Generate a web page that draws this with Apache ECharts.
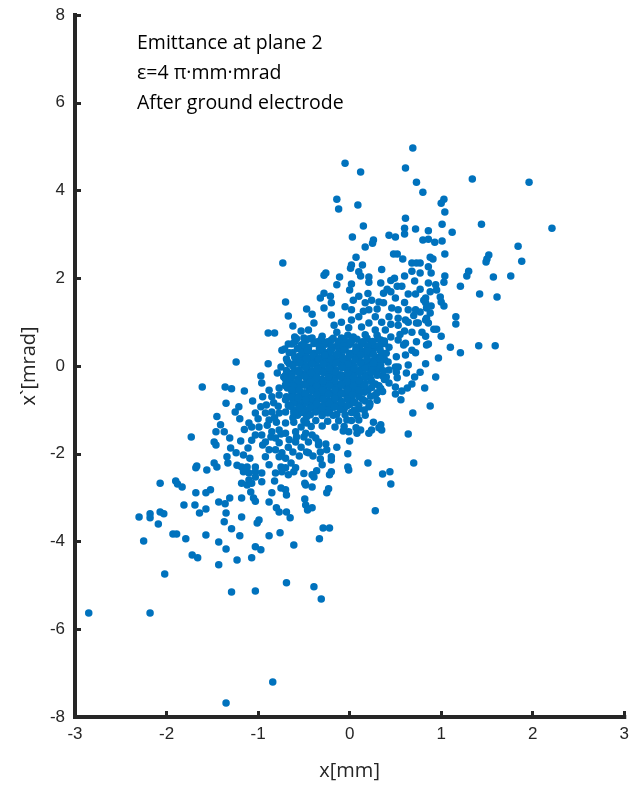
<!DOCTYPE html>
<html>
<head>
<meta charset="utf-8">
<script src="https://cdn.jsdelivr.net/npm/echarts@6/dist/echarts.min.js"></script>
<style>
html,body{margin:0;padding:0;background:#fff;}
#chart{width:632px;height:787px;}
</style>
</head>
<body>
<div id="chart"></div>
<script>
// x [mm], x' [mrad] pairs
const upperPoints = [
[0.69,4.97],[-0.05,4.62],[0.12,4.42],[0.61,4.51],[1.34,4.26],[1.96,4.19],[0.73,4.19],[0.80,3.96],[-0.14,3.80],[-0.12,3.58],[0.09,3.67],[1.03,3.80],[1.00,3.71],[1.04,3.51],[0.61,3.37],[0.15,3.19],[0.60,3.14],[0.60,3.01],[0.72,3.12],[1.01,3.23],[1.12,3.05],[1.44,3.23],[2.21,3.14],[0.03,2.94],[0.26,2.87],[0.25,2.80],[0.17,2.71],[0.43,2.98],[0.50,2.94],[0.86,3.08],[0.80,2.87],[0.86,2.89],[0.93,2.82],[1.01,2.85],[1.84,2.73],[1.52,2.53],[0.07,2.48],[0.48,2.55],[0.52,2.55],[1.04,2.55],[0.88,2.48],[0.58,2.44],[1.50,2.44],[1.88,2.39],
[-0.73,2.35],[-0.70,1.46],[-0.67,1.14],[-0.47,1.30],[-0.62,0.91],[-0.89,0.75],[-0.82,0.75],[-0.53,0.80],[-0.60,0.66],[-0.50,0.64],[-0.67,0.50],[-0.74,0.36],[-0.71,0.39],[-0.53,0.48],[-0.52,0.36],[-0.50,0.27],[-0.69,0.16],[-1.24,0.09],[-0.89,0.05],[-0.61,0.05],[-0.49,0.14],[-0.75,-0.02],[-0.79,-0.16],[-0.70,-0.21],[-0.97,-0.23],[-0.63,-0.16]
];
const rightPoints = [
[0.14,2.30],[0.02,2.30],[0.01,2.23],[-0.28,2.07],[-0.26,2.12],[-0.11,2.03],[0.12,2.05],[0.21,2.03],[0.68,2.35],[0.73,2.35],[0.68,2.16],[0.77,2.12],[0.49,2.00],[0.21,1.91],[0.34,1.89],[0.02,1.87],[-0.14,1.85],[0.52,1.82],[0.57,1.82],[0.71,1.94],[0.00,1.73],[0.41,1.75],[0.37,1.66],[0.45,1.69],[0.64,1.64],[0.72,1.64],[-0.28,1.66],[-0.21,1.59],[-0.32,1.55],[0.10,1.59],[0.24,1.50],[0.32,1.46],[0.17,1.44],[0.04,1.50],[-0.20,1.44],[0.81,1.50],[0.84,1.32],[-0.41,1.18],[-0.28,1.32],[-0.20,1.16],[0.02,1.28],[0.10,1.12],[0.21,1.28],[0.37,1.44],[0.46,1.32],[0.53,1.28],[0.64,1.28],[0.72,1.28],[0.53,1.09],[0.61,1.05],[0.43,1.12],[0.28,1.12],[0.35,1.00],[0.21,0.98],[-0.09,1.00],[0.02,1.05],[-0.17,0.93],[-0.39,0.98],[-0.45,0.82],[-0.14,0.77],[-0.01,0.87],[0.13,0.89],[0.28,0.82],[0.39,0.82],[0.53,0.93],[0.64,1.00],[0.73,0.98],[0.84,1.09],[0.68,0.77],[0.79,0.77],[-0.41,0.64],[-0.34,0.52],[-0.20,0.59],[-0.09,0.64],[0.04,0.66],[0.17,0.71],[0.23,0.55],[0.34,0.59],[0.45,0.66],[0.53,0.59],[0.61,0.52],[0.73,0.55],[0.84,0.48],[-0.12,0.43],[-0.01,0.48],[0.10,0.43],[0.28,0.43],[0.43,0.43],[-0.45,0.43],
[0.91,2.44],[0.77,2.35],[0.86,2.26],[0.89,2.12],[1.04,2.05],[1.03,1.91],[1.49,2.37],[1.30,2.16],[1.28,2.05],[1.57,2.03],[1.76,2.05],[1.21,1.82],[0.86,1.89],[0.94,1.85],[0.95,1.73],[0.88,1.69],[0.77,1.75],[1.42,1.64],[1.61,1.57],[0.99,1.57],[1.00,1.46],[1.03,1.37],[0.83,1.55],[0.83,1.44],[0.89,1.37],[0.77,1.23],[0.88,1.21],[1.16,1.12],[1.16,0.96],[0.83,1.05],[0.86,0.98],[0.75,0.98],[0.92,0.84],[0.95,0.84],[0.83,0.68],[1.00,0.68],[0.86,0.50],[1.10,0.43],[1.41,0.46],[1.59,0.46],[1.21,0.30],[0.97,0.18],[0.83,0.05],[0.77,-0.14],[0.94,-0.25],
[0.53,-0.02],[0.51,-0.14],[0.52,-0.27],[0.64,0.02],[0.62,-0.16],[0.71,-0.25],[0.68,-0.41],[0.63,-0.50],[0.57,-0.57],[0.50,-0.64],[0.82,-0.50],[0.56,-0.77],[0.88,-0.91],[0.69,-1.07],[0.64,-1.55],
[0.59,0.48],[0.68,0.36],[0.51,0.21],[0.61,0.25],[0.72,0.30],[0.43,-0.09],[0.50,-0.02],[0.40,-0.25],[0.29,-0.02],[0.32,0.09],[0.43,-0.39],[0.50,-0.48],[0.26,-1.28],[0.34,-1.34],[0.17,-1.12],[0.10,-1.23],[-0.03,-1.23],[0.04,-1.05],[0.21,-0.93],
[0.50,1.55],[0.60,1.45],[0.30,1.30],[0.15,1.25],[0.45,0.95],[0.60,0.80],[0.70,1.15],[0.30,0.70],[0.55,0.72],[0.20,1.65],[0.10,2.15],[0.35,2.20],[0.60,2.05],[-0.05,1.35],[0.45,1.95]
];
const corePoints = [
[-0.62,0.30],[-0.55,0.22],[-0.45,0.35],[-0.38,0.28],[-0.30,0.40],[-0.22,0.33],[-0.15,0.25],[-0.05,0.38],[0.05,0.30],[0.12,0.36],[0.20,0.28],[0.28,0.20],[0.35,0.30],
[-0.66,0.05],[-0.58,0.12],[-0.50,0.02],[-0.42,0.10],[-0.35,0.15],[-0.28,0.05],[-0.20,0.12],[-0.12,0.08],[-0.04,0.15],[0.03,0.05],[0.10,0.12],[0.18,0.06],[0.25,0.10],[0.38,0.15],
[-0.60,-0.10],[-0.52,-0.18],[-0.46,-0.08],[-0.40,-0.20],[-0.33,-0.05],[-0.25,-0.15],[-0.18,-0.08],[-0.10,-0.20],[-0.02,-0.06],[0.06,-0.15],[0.14,-0.05],[0.22,-0.18],[0.30,-0.10],[0.36,-0.22],
[-0.64,-0.35],[-0.56,-0.30],[-0.48,-0.40],[-0.40,-0.32],[-0.32,-0.42],[-0.24,-0.30],[-0.16,-0.38],[-0.08,-0.28],[0.00,-0.40],[0.08,-0.32],[0.16,-0.42],[0.24,-0.35],[0.32,-0.45],
[-0.60,-0.55],[-0.52,-0.62],[-0.44,-0.52],[-0.36,-0.60],[-0.28,-0.50],[-0.20,-0.62],[-0.12,-0.55],[-0.04,-0.65],[0.04,-0.52],[0.12,-0.60],[0.20,-0.55],[0.28,-0.66],[0.36,-0.58],
[-0.58,-0.80],[-0.50,-0.72],[-0.42,-0.85],[-0.34,-0.76],[-0.26,-0.88],[-0.18,-0.78],[-0.10,-0.86],[-0.02,-0.75],[0.06,-0.84],[0.14,-0.76],[0.22,-0.85],[0.30,-0.78],
[-0.55,-1.00],[-0.46,-1.05],[-0.38,-0.96],[-0.30,-1.08],[-0.22,-1.00],[-0.14,-1.10],[-0.06,-0.98],[0.02,-1.06],[0.10,-0.98],
[-0.60,0.55],[-0.48,0.58],[-0.35,0.55],[-0.25,0.50],[-0.05,0.55],[0.15,0.52],[0.22,0.45],[-0.30,0.68],[-0.02,0.70],
[-0.35,-0.15],[-0.25,-0.40],[-0.15,-0.20],[-0.05,-0.45],[0.02,-0.25],[-0.45,-0.25],[-0.20,0.00],[-0.08,0.02],[0.00,-0.12],[-0.30,-0.65],[-0.12,-0.70],[-0.40,-0.45],[0.10,-0.45],[-0.55,-0.45],[-0.65,-0.20],[0.18,-0.25],[0.25,-0.05],[-0.28,0.22],[-0.10,0.45],[0.08,0.20],[-0.48,-0.65],[-0.36,-0.88],[-0.18,-0.92],[0.00,-0.88],[-0.62,-0.65],[-0.70,-0.45],[-0.72,-0.25]
];
const coreFillPoints = [
[-0.58,0.62],[-0.44,0.62],[-0.31,0.61],[-0.18,0.63],[-0.07,0.62],[0.08,0.61],[0.19,0.63],[0.31,0.62],
[-0.63,0.50],[-0.51,0.49],[-0.39,0.51],[-0.27,0.50],[-0.13,0.49],[0.01,0.51],[0.13,0.50],[0.26,0.49],[0.38,0.51],
[-0.57,0.40],[-0.45,0.41],[-0.33,0.39],[-0.19,0.40],[-0.06,0.41],[0.07,0.39],[0.19,0.40],[0.33,0.41],
[-0.66,0.30],[-0.52,0.31],[-0.39,0.29],[-0.27,0.30],[-0.12,0.31],[0.00,0.29],[0.14,0.30],[0.25,0.31],[0.40,0.29],
[-0.60,0.20],[-0.47,0.21],[-0.33,0.19],[-0.21,0.20],[-0.08,0.21],[0.06,0.19],[0.19,0.20],[0.33,0.21],
[-0.68,0.10],[-0.54,0.11],[-0.40,0.09],[-0.27,0.10],[-0.14,0.11],[-0.01,0.09],[0.12,0.10],[0.26,0.11],[0.42,0.09],
[-0.62,0.00],[-0.48,0.01],[-0.35,-0.01],[-0.22,0.00],[-0.09,0.01],[0.05,-0.01],[0.19,0.00],[0.34,0.01],
[-0.69,-0.10],[-0.55,-0.09],[-0.41,-0.11],[-0.28,-0.10],[-0.15,-0.09],[-0.02,-0.11],[0.11,-0.10],[0.24,-0.09],[0.37,-0.11],
[-0.63,-0.20],[-0.49,-0.21],[-0.36,-0.19],[-0.22,-0.20],[-0.08,-0.21],[0.05,-0.19],[0.17,-0.20],[0.30,-0.21],
[-0.70,-0.30],[-0.56,-0.29],[-0.43,-0.31],[-0.30,-0.30],[-0.17,-0.29],[-0.03,-0.31],[0.11,-0.30],[0.23,-0.29],[0.38,-0.31],
[-0.62,-0.40],[-0.50,-0.41],[-0.36,-0.39],[-0.23,-0.40],[-0.10,-0.41],[0.04,-0.39],[0.17,-0.40],[0.28,-0.41],
[-0.68,-0.50],[-0.56,-0.49],[-0.42,-0.51],[-0.29,-0.50],[-0.16,-0.49],[-0.03,-0.51],[0.09,-0.50],[0.24,-0.49],[0.34,-0.51],
[-0.63,-0.60],[-0.49,-0.61],[-0.37,-0.59],[-0.23,-0.60],[-0.09,-0.61],[0.05,-0.59],[0.16,-0.60],[0.30,-0.61],
[-0.69,-0.70],[-0.55,-0.69],[-0.43,-0.71],[-0.29,-0.70],[-0.16,-0.69],[-0.02,-0.71],[0.10,-0.70],[0.23,-0.69],
[-0.62,-0.80],[-0.50,-0.81],[-0.36,-0.79],[-0.23,-0.80],[-0.09,-0.81],[0.03,-0.79],[0.17,-0.80],
[-0.67,-0.90],[-0.55,-0.89],[-0.43,-0.91],[-0.29,-0.90],[-0.15,-0.89],[-0.03,-0.91],[0.10,-0.90],[0.22,-0.89],
[-0.61,-1.00],[-0.49,-0.99],[-0.36,-1.01],[-0.24,-1.00],[-0.10,-0.99],[0.05,-1.01],[0.16,-1.00],
[-0.57,-1.12],[-0.43,-1.11],[-0.30,-1.13],[-0.18,-1.12],[-0.05,-1.11],[0.08,-1.13],
[-0.50,-1.25],[-0.37,-1.24],[-0.24,-1.26],[-0.12,-1.25],[0.02,-1.24],
[-0.42,-1.38],[-0.30,-1.37],[-0.16,-1.39],[-0.06,-1.38]
];
const coreOverlapPoints = [
[-0.24,0.55],[-0.12,0.56],[0.02,0.57],[0.14,0.55],[0.25,0.56],[0.38,0.57],
[-0.33,0.44],[-0.20,0.45],[-0.07,0.46],[0.07,0.44],[0.20,0.45],[0.32,0.46],
[-0.46,0.36],[-0.33,0.34],[-0.21,0.35],[-0.06,0.36],[0.07,0.34],[0.20,0.35],[0.33,0.36],
[-0.40,0.24],[-0.27,0.25],[-0.14,0.26],[0.00,0.24],[0.12,0.25],[0.26,0.26],
[-0.47,0.16],[-0.34,0.14],[-0.20,0.15],[-0.07,0.16],[0.06,0.14],[0.19,0.15],[0.33,0.16],
[-0.55,0.06],[-0.41,0.04],[-0.29,0.05],[-0.15,0.06],[-0.02,0.04],[0.12,0.05],[0.26,0.06],
[-0.48,-0.04],[-0.35,-0.06],[-0.22,-0.05],[-0.08,-0.04],[0.05,-0.06],[0.17,-0.05],
[-0.56,-0.14],[-0.42,-0.16],[-0.29,-0.15],[-0.15,-0.14],[-0.02,-0.16],[0.11,-0.15],[0.24,-0.14],
[-0.63,-0.25],[-0.49,-0.24],[-0.36,-0.26],[-0.23,-0.25],[-0.10,-0.24],[0.04,-0.26],[0.17,-0.25],
[-0.56,-0.34],[-0.43,-0.36],[-0.29,-0.35],[-0.16,-0.34],[-0.03,-0.36],[0.10,-0.35],
[-0.62,-0.45],[-0.49,-0.44],[-0.36,-0.46],[-0.22,-0.45],[-0.09,-0.44],[0.04,-0.46],[0.16,-0.45],
[-0.55,-0.54],[-0.42,-0.56],[-0.30,-0.55],[-0.16,-0.54],[-0.02,-0.56],[0.10,-0.55],
[-0.62,-0.65],[-0.49,-0.64],[-0.36,-0.66],[-0.23,-0.65],[-0.09,-0.64],[0.03,-0.66],
[-0.56,-0.74],[-0.43,-0.76],[-0.29,-0.75],[-0.16,-0.74],[-0.03,-0.76],
[-0.61,-0.85],[-0.49,-0.84],[-0.36,-0.86],[-0.22,-0.85],[-0.09,-0.84],
[-0.55,-0.94],[-0.42,-0.96],[-0.30,-0.95],[-0.17,-0.94],
[-0.52,-1.06],[-0.37,-1.05],[-0.24,-1.07]
];
const lowerPoints = [
[-1.61,-0.48],[-1.36,-0.48],[-1.29,-0.52],[-1.15,-0.57],[-1.06,-0.80],[-1.21,-0.93],[-0.96,-0.39],[-1.41,-1.34],[-1.37,-1.50],[-1.46,-1.50],[-1.73,-1.62],[-1.19,-1.71],[-1.31,-1.64],[-1.48,-1.73],[-1.46,-1.80],[-1.30,-1.87],[-1.11,-1.87],[-1.24,-1.98],[-1.16,-2.03],[-1.34,-2.07],[-1.33,-2.21],[-1.67,-2.28],[-1.68,-2.32],[-1.56,-2.37],[-1.48,-2.21],[-1.45,-2.30],[-1.23,-2.26],[-1.18,-2.30],[-1.12,-2.30],[-1.09,-2.10],[-1.03,-1.07],[-1.10,-1.30],[-1.07,-1.39],[-0.99,-1.39],[-0.96,-1.57],[-1.03,-1.57],[-1.07,-1.69],[-0.92,-1.73],[-0.86,-1.62],[-0.81,-1.64],[-0.77,-1.75],[-0.88,-1.91],[-0.81,-1.91],[-0.74,-1.98],[-0.92,-2.07],[-0.77,-2.07],[-0.70,-2.10],[-0.64,-2.21],[-0.59,-2.32],[-0.75,-2.30],[-0.70,-2.32],
[-0.81,-2.44],[-0.96,-2.44],[-1.03,-2.30],[-0.97,-0.93],[-0.91,-0.89],[-0.83,-0.84],[-0.88,-0.55],[-0.77,-0.50],[-0.70,-0.43],[-0.63,-0.55],[-0.77,-0.66],[-0.70,-0.77],[-0.63,-0.71],[-0.56,-0.73],[-0.48,-0.77],[-0.92,-1.07],[-0.85,-1.05],[-0.77,-1.07],[-0.70,-1.05],[-0.61,-1.07],[-0.52,-1.05],[-0.47,-1.16],[-0.88,-1.23],[-0.80,-1.28],[-0.70,-1.30],[-0.61,-1.28],[-0.53,-1.39],[-0.47,-1.30],[-0.77,-1.46],[-0.70,-1.53],[-0.59,-1.50],[-0.50,-1.62],[-0.59,-1.73],[-0.53,-1.85],[-0.47,-1.96],[-0.67,-1.85],[-1.10,-2.44],[-1.03,-2.53],
[0.70,-2.21],[0.36,-2.46],[0.44,-2.41],[0.45,-2.69],[0.20,-2.21],[-0.02,-2.30],[-0.01,-2.37],[-0.02,-2.00],[0.00,-1.71],[-0.14,-1.85],[-0.20,-2.07],[-0.20,-2.14],[-0.32,-2.12],[-0.45,-1.98],[-0.36,-2.39],[-0.41,-2.48],[-0.20,-2.41],[-0.22,-2.48],[-0.49,-2.67],[-0.48,-2.71],[-0.41,-2.76],[-0.23,-2.80],[-0.25,-2.89],[-0.49,-3.03],[-0.48,-3.17],[-0.41,-3.23],[0.28,-3.30],[0.32,-1.41],[0.35,-1.46],[0.24,-1.46],[0.21,-1.53],[0.12,-1.46],[0.07,-1.41],[0.08,-1.53],[-0.01,-1.50],[-0.07,-1.48],[-0.34,-1.80],[-0.26,-1.78],[-0.25,-1.91],[-0.32,-1.96],[-0.41,-1.57],[-0.48,-1.53],[-0.37,-1.64],[-0.45,-1.73],[-0.34,-1.73],
[-0.95,-0.70],[-0.85,-0.70],[-1.00,-1.20],[-0.90,-1.35],[-0.82,-1.18],[-0.62,-1.18],[-0.55,-0.95],[-0.65,-0.92],[-0.78,-0.92],[-0.58,-1.62],[-0.66,-1.68],[-0.75,-1.55],[-0.85,-1.50],[-0.95,-1.80],[-0.62,-1.96],[-0.55,-2.05],[-0.40,-2.05],[-0.30,-2.25],[-0.50,-2.45],[-0.88,-2.25],[-1.20,-1.20],[-1.15,-1.45],[-1.25,-1.05],[-1.35,-0.85],[-1.45,-1.15]
];
const tailPoints = [
[-2.07,-2.67],[-1.90,-2.62],[-1.88,-2.69],[-1.83,-2.76],[-1.68,-2.89],[-1.57,-2.89],[-1.52,-2.82],[-1.81,-3.17],[-1.69,-3.17],[-1.64,-3.35],[-1.57,-3.26],[-1.43,-3.10],[-1.36,-3.14],[-1.31,-3.01],[-1.18,-3.01],[-1.18,-2.67],[-1.12,-2.71],[-1.35,-3.35],[-1.37,-3.55],[-1.18,-3.44],[-1.29,-3.71],[-1.20,-3.87],[-2.30,-3.44],[-2.18,-3.37],[-2.18,-3.46],[-2.07,-3.33],[-2.03,-3.37],[-2.09,-3.60],[-2.25,-3.99],[-1.93,-3.83],[-1.89,-3.83],[-1.79,-3.94],[-1.57,-3.85],[-1.43,-4.01],[-1.35,-4.17],[-1.23,-4.42],[-1.72,-4.31],[-1.66,-4.37],[-1.43,-4.53],[-2.02,-4.74],[-1.29,-5.15],[-2.85,-5.63],[-2.18,-5.63],
[-0.39,-2.53],[-0.46,-3.28],[-0.74,-2.41],[-0.67,-2.48],[-0.61,-2.41],[-0.82,-2.62],[-0.96,-2.64],[-0.85,-2.89],[-0.75,-2.78],[-0.70,-2.82],[-0.69,-2.94],[-0.88,-3.10],[-1.05,-3.01],[-1.03,-3.08],[-1.10,-2.60],[-1.07,-2.67],[-1.03,-2.41],[-1.16,-2.41],[-1.08,-2.87],[-0.80,-3.23],[-0.77,-3.33],[-0.69,-3.33],[-0.65,-3.46],[-0.99,-3.51],[-1.01,-3.58],[-0.88,-3.87],[-0.76,-3.80],[-0.61,-4.08],[-0.29,-3.69],[-0.22,-3.69],[-0.33,-3.94],[-1.03,-4.12],[-0.97,-4.19],[-1.07,-4.37],[-0.69,-4.94],[-0.39,-5.03],[-1.03,-5.13],[-0.31,-5.31],
[-0.84,-7.20],[-1.35,-7.68]
];
const annotationLines = ['Emittance at plane 2', 'ε=4 π·mm·mrad', 'After ground electrode'];
const xTicks = {min: -3, max: 3, step: 1};
const yTicks = {min: -8, max: 8, step: 2};

const allPoints = upperPoints.concat(rightPoints, corePoints, coreFillPoints, coreOverlapPoints, lowerPoints, tailPoints);
const axisColor = '#262626';
const chart = echarts.init(document.getElementById('chart'), null, {renderer: 'canvas'});
const axisCommon = {
  type: 'value',
  splitLine: {show: false},
  axisLine: {show: true, onZero: false, lineStyle: {color: axisColor, width: 4, cap: 'square'}},
  axisTick: {show: true, inside: true, length: 6, lineStyle: {color: axisColor, width: 3}},
  axisLabel: {color: axisColor, fontSize: 17, fontFamily: 'Liberation Sans, Arial, sans-serif'},
  nameLocation: 'middle',
  nameTextStyle: {color: axisColor, fontSize: 20, fontFamily: 'Open Sans, sans-serif'}
};
chart.setOption({
  animation: false,
  backgroundColor: '#ffffff',
  title: {
    text: annotationLines.join('\n'),
    left: 132, top: 23,
    textStyle: {fontSize: 19.5, fontWeight: 'normal', color: '#000', lineHeight: 30, fontFamily: 'Open Sans, sans-serif'}
  },
  grid: {left: 75, right: 5, top: 15, bottom: 70, containLabel: false},
  xAxis: Object.assign({}, axisCommon, {
    min: xTicks.min, max: xTicks.max, interval: xTicks.step,
    name: 'x[mm]', nameGap: 44,
    axisLabel: Object.assign({}, axisCommon.axisLabel, {margin: 9})
  }),
  yAxis: Object.assign({}, axisCommon, {
    min: yTicks.min, max: yTicks.max, interval: yTicks.step,
    name: 'x`[mrad]', nameGap: 33,
    axisLabel: Object.assign({}, axisCommon.axisLabel, {margin: 10})
  }),
  series: [{
    type: 'scatter',
    data: allPoints,
    symbol: 'circle',
    symbolSize: 7.5,
    itemStyle: {color: '#0072BD', opacity: 1},
    silent: true
  }]
});
</script>
</body>
</html>
